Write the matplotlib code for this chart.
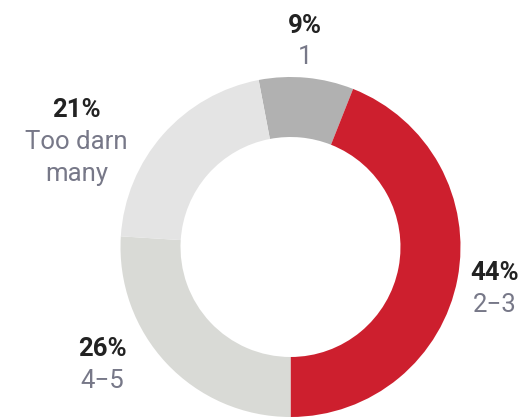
import matplotlib.pyplot as plt

# slices, clockwise from the top-left edge of the "1" slice
categories = ["1", "2\u22123", "4\u22125", "Too darn\nmany"]
shares = [9, 44, 26, 21]
colors = ["#b1b1b1", "#cd1f2e", "#d9dad6", "#e4e4e4"]

# label anchors (data units, pie radius = 1), baseline of the percent line
label_pos = [(0.085, 1.26), (1.2, -0.195), (-1.106, -0.64), (-1.259, 0.763)]

fig = plt.figure(figsize=(5.24, 4.18), dpi=100)
ax = fig.add_axes([0, 0, 1, 1])

ax.pie(shares, colors=colors, startangle=90 + 10.8, counterclock=False,
       radius=1.0, wedgeprops=dict(width=0.353, edgecolor="none"))

line_h = 31.7 / 170  # line spacing in data units
for cat, val, (x, y) in zip(categories, shares, label_pos):
    ax.text(x, y, "{}%".format(val), ha="center", va="baseline",
            fontsize=18.5, fontweight="bold", color="#222222", family="Roboto")
    for i, line in enumerate(cat.split("\n")):
        ax.text(x, y - line_h * (i + 1), line, ha="center", va="baseline",
                fontsize=18.5, color="#777888", family="Roboto")

ax.set_xlim(-290.5 / 170, (524 - 290.5) / 170)
ax.set_ylim(-(418 - 247) / 170, 247 / 170)
ax.set_aspect("auto")
ax.axis("off")

fig.savefig("out.png", dpi=100)
